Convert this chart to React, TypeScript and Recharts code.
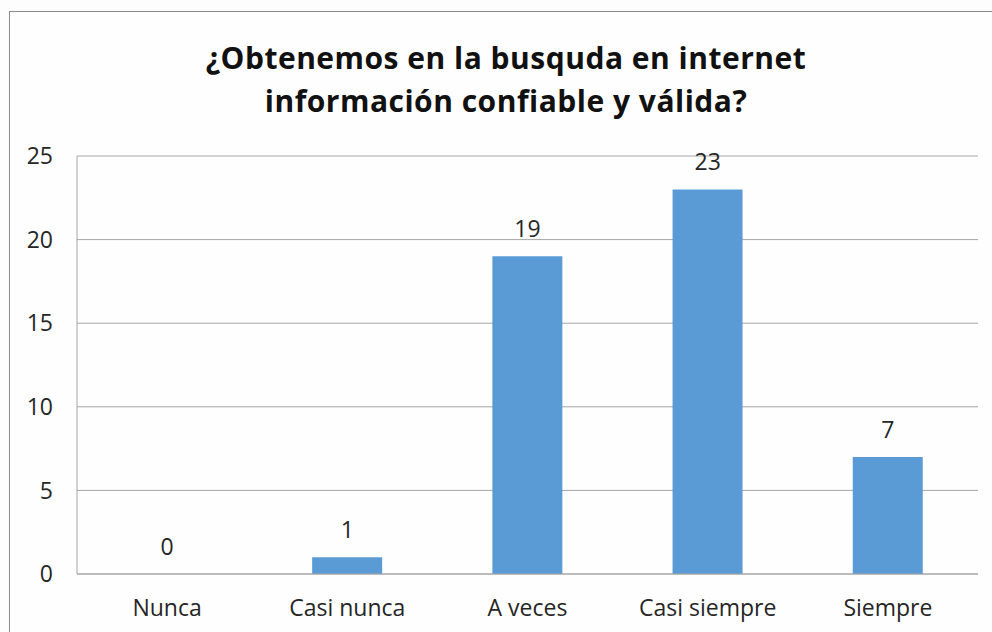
import React from 'react';
import { ComposedChart, Bar, Scatter, XAxis, YAxis, CartesianGrid } from 'recharts';

const categories = ['Nunca', 'Casi nunca', 'A veces', 'Casi siempre', 'Siempre'];
const counts = [0, 1, 19, 23, 7];
const yTicks = [0, 5, 10, 15, 20, 25];
const titleLines = ['¿Obtenemos en la busquda en internet', 'información confiable y válida?'];

const chartData = categories.map((name, i) => ({ name, value: counts[i] }));

const FONT = '"Open Sans", Lato, sans-serif';

// value text above each bar; drawn as a scatter shape so the zero bar gets one too
const ValueLabel = (props: any) => {
  const { cx, cy, payload } = props;
  return (
    <text
      x={cx}
      y={cy - 19}
      textAnchor="middle"
      fill="#262626"
      fontSize={23}
      fontFamily={FONT}
    >
      {payload.value}
    </text>
  );
};

const App: React.FC = () => {
  return (
    <div
      style={{
        position: 'absolute',
        left: 0,
        top: 0,
        width: 992,
        height: 632,
        overflow: 'hidden',
        background: '#fdfdfd',
        fontFamily: FONT,
      }}
    >
      {/* chart frame, runs off the right and bottom edges */}
      <div
        style={{
          position: 'absolute',
          left: 9,
          top: 11,
          width: 1010,
          height: 660,
          border: '1px solid #8a8a8a',
          background: '#fefefe',
        }}
      />
      <div
        style={{
          position: 'absolute',
          left: 9,
          top: 36,
          width: 994,
          textAlign: 'center',
          fontWeight: 700,
          fontSize: 30,
          lineHeight: '43px',
          color: '#111',
          letterSpacing: 0.5,
        }}
      >
        {titleLines.map((t) => (
          <div key={t}>{t}</div>
        ))}
      </div>
      <div style={{ position: 'absolute', left: 0, top: 0 }}>
        <ComposedChart
          width={992}
          height={632}
          data={chartData}
          margin={{ top: 156, right: 14, left: 17, bottom: 18 }}
          barCategoryGap="30.5%"
        >
          <CartesianGrid vertical={false} stroke="#a6a6a6" strokeWidth={1} />
          <XAxis
            dataKey="name"
            height={40}
            tickLine={false}
            tickSize={0}
            tickMargin={26}
            axisLine={{ stroke: '#a6a6a6' }}
            tick={{ fill: '#262626', fontSize: 23, fontFamily: FONT }}
            interval={0}
          />
          <YAxis
            width={60}
            domain={[0, 25]}
            ticks={yTicks}
            tickLine={false}
            tickSize={0}
            tickMargin={24}
            axisLine={{ stroke: '#a6a6a6' }}
            tick={{ fill: '#262626', fontSize: 23, fontFamily: FONT }}
          />
          <Bar dataKey="value" fill="#5b9bd5" isAnimationActive={false} />
          <Scatter dataKey="value" shape={ValueLabel} isAnimationActive={false} />
        </ComposedChart>
      </div>
    </div>
  );
};

export default App;
